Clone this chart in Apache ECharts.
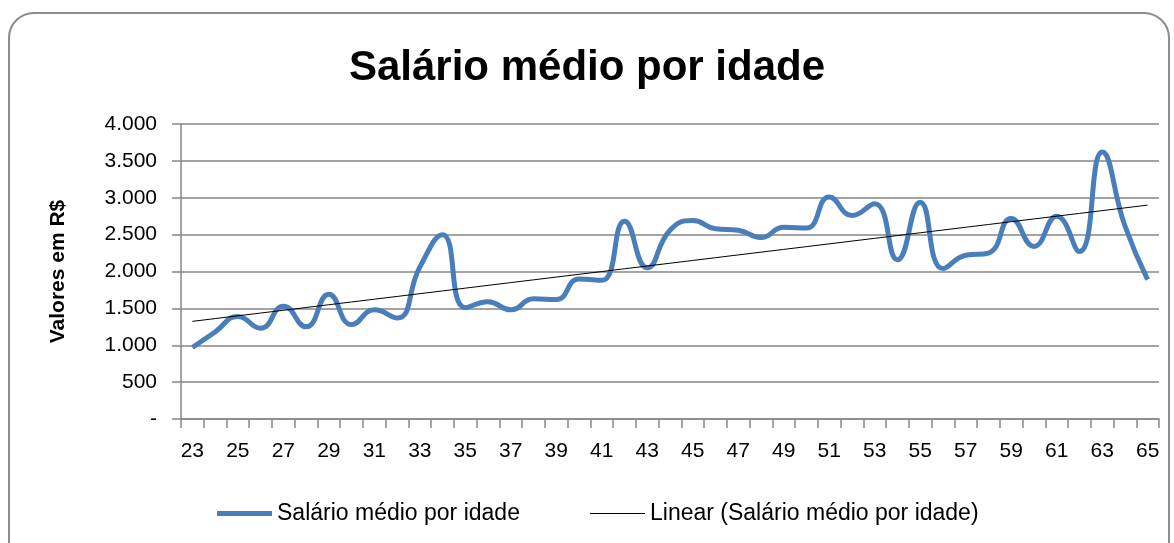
<!DOCTYPE html>
<html>
<head>
<meta charset="utf-8">
<script src="https://cdn.jsdelivr.net/npm/echarts@6/dist/echarts.min.js"></script>
<style>
html,body{margin:0;padding:0;background:#fff;}
#chart{width:1174px;height:543px;}
</style>
</head>
<body>
<div id="chart"></div>
<script>
const titleText = 'Salário médio por idade';
const yAxisName = 'Valores em R$';
const seriesName = 'Salário médio por idade';
const trendName = 'Linear (Salário médio por idade)';
const ages = ['23','24','25','26','27','28','29','30','31','32','33','34','35','36','37','38','39','40','41','42','43','44','45','46','47','48','49','50','51','52','53','54','55','56','57','58','59','60','61','62','63','64','65'];
const salaries = [970,1180,1390,1230,1530,1250,1690,1280,1480,1370,2060,2500,1510,1590,1480,1630,1620,1900,1880,2680,2050,2560,2690,2580,2560,2460,2600,2590,3010,2760,2920,2160,2940,2040,2220,2250,2720,2340,2750,2270,3620,2620,1890];
const yTicks = [0,500,1000,1500,2000,2500,3000,3500,4000];

// linear trend (least squares over the series, like Excel's trendline)
const n = salaries.length;
let sx=0, sy=0, sxy=0, sxx=0;
salaries.forEach((v,i)=>{ sx+=i; sy+=v; sxy+=i*v; sxx+=i*i; });
const slope = (n*sxy - sx*sy)/(n*sxx - sx*sx);
const intercept = (sy - slope*sx)/n;
const trend = salaries.map((v,i)=> +(intercept + slope*i).toFixed(2));

const fmt = v => v === 0 ? '-' : String(v).replace(/\B(?=(\d{3})+(?!\d))/g, '.');
const FONT = "'Liberation Sans', Arial, sans-serif";
const legendText = {fontFamily:FONT, fontSize:23, color:'#000'};

const chart = echarts.init(document.getElementById('chart'), null, {renderer:'canvas'});
chart.setOption({
  backgroundColor:'#ffffff',
  animation:false,
  graphic:[{
    type:'rect', silent:true,
    shape:{x:9, y:13, width:1160, height:580, r:25},
    style:{fill:'none', stroke:'#8c8c8c', lineWidth:2}
  }],
  title:{
    text:titleText, left:'center', top:42,
    textStyle:{fontFamily:FONT, fontSize:42, fontWeight:'bold', color:'#000'}
  },
  legend:[
    {top:497, left:212, itemWidth:55, itemHeight:5, icon:'rect', itemGap:0,
     textStyle:legendText, data:[seriesName]},
    {top:497, left:585, itemWidth:55, itemHeight:1, icon:'rect', itemGap:0,
     textStyle:legendText, data:[trendName]}
  ],
  grid:{left:181, right:15, top:124, bottom:124, containLabel:false},
  xAxis:{
    type:'category', data:ages, boundaryGap:true,
    axisLine:{lineStyle:{color:'#868686', width:1.5}},
    axisTick:{show:true, interval:0, length:9, lineStyle:{color:'#868686', width:1.5}},
    axisLabel:{interval:1, margin:22, fontFamily:FONT, fontSize:21, color:'#000'},
    splitLine:{show:false}
  },
  yAxis:{
    type:'value', min:0, max:4000, interval:500,
    name:yAxisName, nameLocation:'middle', nameGap:112, nameRotate:90,
    nameTextStyle:{fontFamily:FONT, fontSize:21, fontWeight:'bold', color:'#000'},
    axisLine:{show:true, lineStyle:{color:'#868686', width:1.5}},
    axisTick:{show:true, length:9, lineStyle:{color:'#868686', width:1.5}},
    axisLabel:{margin:24, fontFamily:FONT, fontSize:21, color:'#000', formatter:v=>fmt(v)},
    splitLine:{show:true, lineStyle:{color:'#868686', width:1.5}}
  },
  series:[
    {name:seriesName, type:'line', data:salaries, smooth:true, symbol:'none',
     lineStyle:{color:'#4a7ebb', width:5}, itemStyle:{color:'#4a7ebb'}, z:2},
    {name:trendName, type:'line', data:trend, smooth:false, symbol:'none',
     lineStyle:{color:'#000', width:1}, itemStyle:{color:'#000'}, z:3}
  ]
});
</script>
</body>
</html>
